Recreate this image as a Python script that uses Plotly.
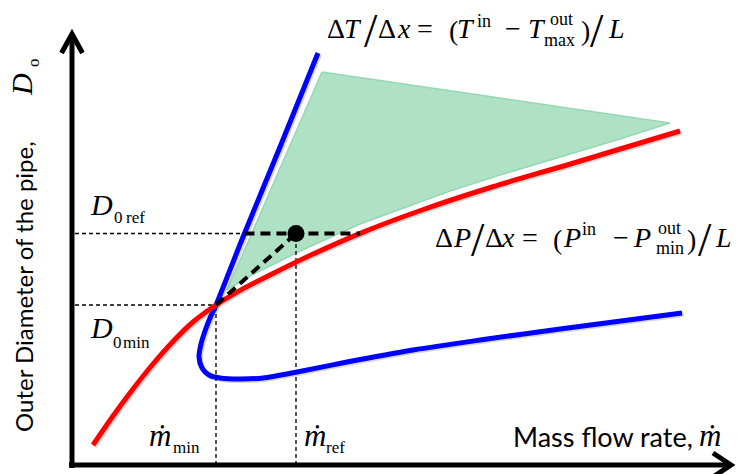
import numpy as np
import plotly.graph_objects as go

W, H = 739, 474
SERIF = "Liberation Serif"
SANS = "Lato"

# Schematic frame: origin at the axes corner, one unit per pixel.
X_MIN, X_MAX = -72, 667
Y_MIN, Y_MAX = -9, 465

# Pressure-drop limit, dP/dx = (P_in - P_out,min)/L  (red)
dp_mdot = [21, 41, 61, 81, 101, 121, 144, 170, 200, 240, 290, 350, 420, 500, 608]
dp_D = [20, 49, 76, 101, 123.5, 143, 160, 175.6, 191, 210.4, 232.4, 255, 278, 301.5, 334]

# Temperature-drop limit, dT/dx = (T_in - T_out,max)/L  (blue)
dt_mdot = [246, 208, 171, 144, 138, 133, 129, 127, 130, 137, 148, 168, 191, 225, 275, 341, 408, 488, 610]
dt_D = [412, 318, 228, 160, 147, 134, 121, 108, 97, 90, 87, 86, 87, 93, 103, 115, 125, 136, 152]

# Feasible design region (green)
fz_mdot = [250, 598, 548, 488, 428, 378, 328, 288, 258, 228, 200, 178, 155, 250]
fz_D = [393, 342, 326, 308, 290, 274, 256, 241, 227.5, 214, 200, 189, 175, 393]

# Minimum and reference design points
m_min, D0_min = 144, 160
m_ref, D0_ref = 224, 231.5

# Where the D0_ref level meets the two limit curves
dt_upper_D = dt_D[:4][::-1]
dt_upper_m = dt_mdot[:4][::-1]
m_blue_ref = float(np.interp(D0_ref, dt_upper_D, dt_upper_m))
m_red_ref = float(np.interp(D0_ref, dp_D, dp_mdot))

SHADOW = "rgba(0,0,0,0.16)"
SH = 1.5  # drop-shadow offset

fig = go.Figure()

fig.add_trace(go.Scatter(
    x=fz_mdot, y=fz_D, mode="lines", fill="toself",
    fillcolor="rgba(110,200,150,0.55)",
    line=dict(color="rgb(150,215,180)", width=1.5),
    hoverinfo="skip"))

thin = dict(color="black", width=1.3, dash="4px,3px")
for xs, ys in [([3, m_blue_ref], [D0_ref, D0_ref]),
               ([3, m_min], [D0_min, D0_min]),
               ([m_min, m_min], [0, D0_min]),
               ([m_ref, m_ref], [0, D0_ref])]:
    fig.add_trace(go.Scatter(x=xs, y=ys, mode="lines", line=thin, hoverinfo="skip"))

# Limit curves, each with a soft drop shadow
for xs, ys, color, smooth in [(dt_mdot, dt_D, "rgb(0,0,255)", 0.8),
                              (dp_mdot, dp_D, "rgb(255,0,0)", 1.0)]:
    fig.add_trace(go.Scatter(
        x=[v + SH for v in xs], y=[v - SH for v in ys], mode="lines",
        line=dict(color=SHADOW, width=5, shape="spline", smoothing=smooth),
        hoverinfo="skip"))
    fig.add_trace(go.Scatter(
        x=xs, y=ys, mode="lines",
        line=dict(color=color, width=5, shape="spline", smoothing=smooth),
        hoverinfo="skip"))

thick = dict(color="black", width=4, dash="10px,6px")
fig.add_trace(go.Scatter(x=[m_blue_ref, m_red_ref], y=[D0_ref, D0_ref],
                         mode="lines", line=thick, hoverinfo="skip"))
fig.add_trace(go.Scatter(x=[m_min, m_ref], y=[D0_min, D0_ref],
                         mode="lines", line=thick, hoverinfo="skip"))
fig.add_trace(go.Scatter(x=[m_ref], y=[D0_ref], mode="markers",
                         marker=dict(color="black", size=17), hoverinfo="skip"))

# Axes with open arrowheads
axis_paths = [
    "M 0,-3 L 0,429",
    "M -10.5,412 L 0,431 L 10.5,412",
    "M -3,0 L 656,0",
    "M 641,12 L 659,0 L 641,-12",
]
shapes = []
for p in axis_paths:
    shapes.append(dict(type="path", path=p, xref="x", yref="y", layer="above",
                       line=dict(color="black", width=5)))

annotations = []


def txt(s, px, base, size, family=SERIF, anchor="left"):
    """Text with its baseline at pixel row `base`."""
    yc = base - 0.34 * size
    annotations.append(dict(
        text=s, x=px / W, y=1 - yc / H, xref="paper", yref="paper",
        xanchor=anchor, yanchor="middle", showarrow=False,
        borderpad=0, borderwidth=0,
        font=dict(family=family, size=size, color="black")))


def vtxt(s, pxc, pyc, size, family=SERIF):
    """Text rotated to read bottom-to-top, centred on a pixel point."""
    annotations.append(dict(
        text=s, x=pxc / W, y=1 - pyc / H, xref="paper", yref="paper",
        xanchor="center", yanchor="middle", showarrow=False,
        borderpad=0, borderwidth=0,
        textangle=-90, font=dict(family=family, size=size, color="black")))


BIG, SCR, SLS = 28, 18, 48

# dT/dx = (T_in - T_out,max)/L, each glyph centred on its slot
temp_law = [
    ("Δ", 336, 38, BIG), ("<i>T</i>", 352.5, 38, BIG), ("/", 371, 47, SLS),
    ("Δ", 387, 38, BIG), ("<i>x</i>", 404, 38, BIG), ("=", 425, 38, BIG),
    ("(", 453.5, 40, BIG), ("<i>T</i>", 465.5, 38, BIG), ("in", 483.5, 27, SCR),
    ("−", 513, 38, BIG), ("<i>T</i>", 536.5, 38, BIG), ("out", 561.5, 25, SCR),
    ("max", 559, 46, SCR), (")", 585, 40, BIG), ("/", 597, 47, SLS),
    ("<i>L</i>", 616.5, 38, BIG),
]
# dP/dx = (P_in - P_out,min)/L
press_law = [
    ("Δ", 444, 247, BIG), ("<i>P</i>", 461.5, 247, BIG), ("/", 478, 256, SLS),
    ("Δ", 494, 247, BIG), ("<i>x</i>", 508.5, 247, BIG), ("=", 530, 247, BIG),
    ("(", 557, 249, BIG), ("<i>P</i>", 571.5, 247, BIG), ("in", 588.5, 235, SCR),
    ("−", 621, 247, BIG), ("<i>P</i>", 642, 247, BIG), ("out", 669, 234, SCR),
    ("min", 670, 254, SCR), (")", 691, 249, BIG), ("/", 705, 256, SLS),
    ("<i>L</i>", 723, 247, BIG),
]
for glyph, px, base, size in temp_law + press_law:
    txt(glyph, px, base, size, anchor="center")

# Design-point labels
txt("<i>D</i>", 90, 215, 30)
txt("0", 114, 223, 17)
txt("ref", 126, 223, 17)
txt("<i>D</i>", 90, 338, 30)
txt("0", 113, 348, 17)
txt("min", 123, 348, 17)
txt("<i>ṁ</i>", 149, 446, 31)
txt("min", 173, 453, 17)
txt("<i>ṁ</i>", 304, 446, 31)
txt("ref", 326, 453, 17)

# Axis titles
txt("Mass flow rate,", 513, 446, 27, SANS)
txt("<i>ṁ</i>", 699, 446, 31)
vtxt("Outer Diameter of the pipe,", 23, 287, 24, SANS)
vtxt("<i>D</i>", 21, 85, 30)
vtxt("o", 33, 63, 17)

fig.update_layout(
    width=W, height=H,
    margin=dict(l=0, r=0, t=0, b=0),
    paper_bgcolor="white", plot_bgcolor="white",
    showlegend=False,
    xaxis=dict(range=[X_MIN, X_MAX], visible=False, fixedrange=True),
    yaxis=dict(range=[Y_MIN, Y_MAX], visible=False, fixedrange=True),
    shapes=shapes,
    annotations=annotations,
)

fig.write_html("out.html", config=dict(displayModeBar=False))
